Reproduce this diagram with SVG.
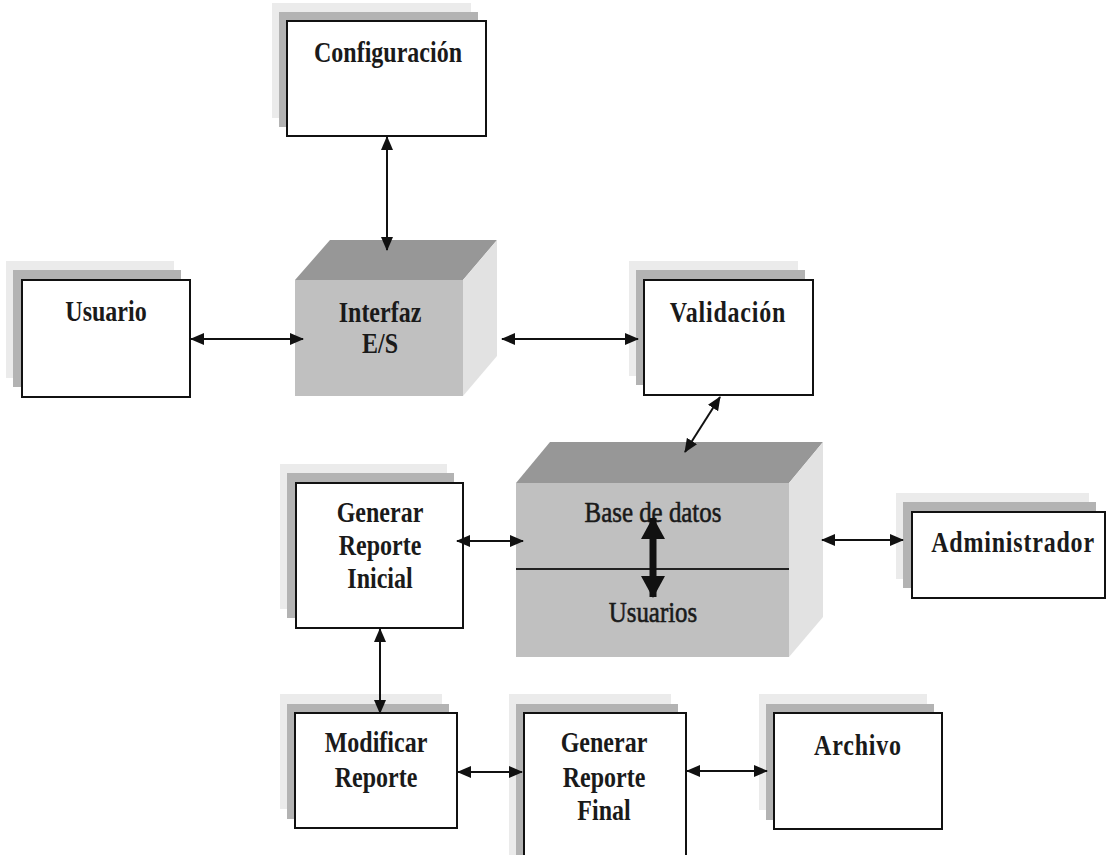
<svg xmlns="http://www.w3.org/2000/svg" width="1113" height="855" viewBox="0 0 1113 855">
  <style>
    .halo { fill: #ebebeb; }
    .shade { fill: #b3b3b3; }
    .box { fill: #ffffff; stroke: #111111; stroke-width: 2; }
    .front { fill: #c0c0c0; }
    .top { fill: #979797; }
    .side { fill: #e2e2e2; }
    .lbl { font-family: "Liberation Serif", "Times New Roman", serif; font-weight: bold; font-size: 30px; fill: #1a1a1a; text-anchor: middle; }
    .plain { font-weight: normal; stroke: #1a1a1a; stroke-width: 0.6; }
    .link { stroke: #111111; stroke-width: 2; fill: none; marker-start: url(#head); marker-end: url(#head); }
  </style>
  <defs>
    <marker id="head" viewBox="0 0 14 12" refX="13" refY="6" markerWidth="14" markerHeight="12" markerUnits="userSpaceOnUse" orient="auto-start-reverse">
      <path d="M0,0 L14,6 L0,12 z" fill="#111111"/>
    </marker>
    <marker id="bighead" viewBox="0 0 22 24" refX="21" refY="12" markerWidth="22" markerHeight="24" markerUnits="userSpaceOnUse" orient="auto-start-reverse">
      <path d="M0,0 L22,12 L0,24 z" fill="#111111"/>
    </marker>
  </defs>

  <rect width="1113" height="855" fill="#ffffff"/>

  <!-- Configuración -->
  <g id="configuracion">
    <rect class="halo" x="272" y="3" width="199" height="115"/>
    <rect class="shade" x="279" y="12" width="199" height="115"/>
    <rect class="box" x="287" y="21" width="199" height="115"/>
    <g transform="translate(388,0) scale(0.8,1)"><text class="lbl" x="0" y="62">Configuración</text></g>
  </g>

  <!-- Usuario -->
  <g id="usuario">
    <rect class="halo" x="6" y="261" width="168" height="117"/>
    <rect class="shade" x="13" y="270" width="168" height="117"/>
    <rect class="box" x="22" y="280" width="168" height="117"/>
    <g transform="translate(106,0) scale(0.8,1)"><text class="lbl" x="0" y="321">Usuario</text></g>
  </g>

  <!-- Interfaz E/S (cube) -->
  <g id="interfaz">
    <polygon class="top" points="295,280 330,240 497,240 463,280"/>
    <polygon class="side" points="463,280 497,240 497,356 463,396"/>
    <rect class="front" x="295" y="280" width="168" height="116"/>
    <g transform="translate(380,0) scale(0.8,1)">
      <text class="lbl" x="0" y="322">Interfaz</text>
      <text class="lbl" x="0" y="353">E/S</text>
    </g>
  </g>

  <!-- Validación -->
  <g id="validacion">
    <rect class="halo" x="629" y="261" width="169" height="115"/>
    <rect class="shade" x="636" y="270" width="169" height="115"/>
    <rect class="box" x="644" y="280" width="169" height="115"/>
    <g transform="translate(728,0) scale(0.8,1)"><text class="lbl" x="0" y="322" letter-spacing="1">Validación</text></g>
  </g>

  <!-- Base de datos / Usuarios (cube) -->
  <g id="base-datos">
    <polygon class="top" points="516,483 550,442 823,442 789,483"/>
    <polygon class="side" points="789,483 823,442 823,617 789,657"/>
    <rect class="front" x="516" y="483" width="273" height="174"/>
    <line x1="516" y1="569" x2="789" y2="569" stroke="#222222" stroke-width="2"/>
    <g transform="translate(653,0) scale(0.83,1)">
      <text class="lbl plain" x="0" y="522">Base de datos</text>
      <text class="lbl plain" x="0" y="622">Usuarios</text>
    </g>
    <line x1="653" y1="518" x2="653" y2="597" stroke="#111111" stroke-width="7" marker-start="url(#bighead)" marker-end="url(#bighead)"/>
  </g>

  <!-- Generar Reporte Inicial -->
  <g id="generar-inicial">
    <rect class="halo" x="280" y="464" width="167" height="145"/>
    <rect class="shade" x="287" y="473" width="167" height="145"/>
    <rect class="box" x="296" y="483" width="167" height="145"/>
    <g transform="translate(380,0) scale(0.8,1)">
      <text class="lbl" x="0" y="522">Generar</text>
      <text class="lbl" x="0" y="555">Reporte</text>
      <text class="lbl" x="0" y="588">Inicial</text>
    </g>
  </g>

  <!-- Administrador -->
  <g id="administrador">
    <rect class="halo" x="896" y="493" width="193" height="86"/>
    <rect class="shade" x="903" y="502" width="193" height="86"/>
    <rect class="box" x="912" y="512" width="193" height="86"/>
    <g transform="translate(1013,0) scale(0.8,1)"><text class="lbl" x="0" y="552" letter-spacing="1">Administrador</text></g>
  </g>

  <!-- Modificar Reporte -->
  <g id="modificar">
    <rect class="halo" x="280" y="694" width="162" height="115"/>
    <rect class="shade" x="287" y="704" width="162" height="115"/>
    <rect class="box" x="295" y="713" width="162" height="115"/>
    <g transform="translate(376,0) scale(0.8,1)">
      <text class="lbl" x="0" y="752">Modificar</text>
      <text class="lbl" x="0" y="787">Reporte</text>
    </g>
  </g>

  <!-- Generar Reporte Final -->
  <g id="generar-final">
    <rect class="halo" x="509" y="694" width="162" height="170"/>
    <rect class="shade" x="516" y="704" width="162" height="170"/>
    <rect class="box" x="524" y="713" width="162" height="170"/>
    <g transform="translate(604,0) scale(0.8,1)">
      <text class="lbl" x="0" y="752">Generar</text>
      <text class="lbl" x="0" y="787">Reporte</text>
      <text class="lbl" x="0" y="820">Final</text>
    </g>
  </g>

  <!-- Archivo -->
  <g id="archivo">
    <rect class="halo" x="759" y="694" width="168" height="116"/>
    <rect class="shade" x="766" y="704" width="168" height="116"/>
    <rect class="box" x="774" y="713" width="168" height="116"/>
    <g transform="translate(858,0) scale(0.8,1)"><text class="lbl" x="0" y="755" letter-spacing="1">Archivo</text></g>
  </g>

  <!-- Connectors -->
  <g id="connectors">
    <line class="link" x1="387" y1="137" x2="387" y2="250"/>
    <line class="link" x1="191" y1="339" x2="303" y2="339"/>
    <line class="link" x1="502" y1="339" x2="638" y2="339"/>
    <line class="link" x1="720" y1="397" x2="685" y2="452"/>
    <line class="link" x1="457" y1="541" x2="523" y2="541"/>
    <line class="link" x1="822" y1="540" x2="903" y2="540"/>
    <line class="link" x1="380" y1="629" x2="380" y2="713"/>
    <line class="link" x1="458" y1="772" x2="522" y2="772"/>
    <line class="link" x1="687" y1="771" x2="767" y2="771"/>
  </g>
</svg>
